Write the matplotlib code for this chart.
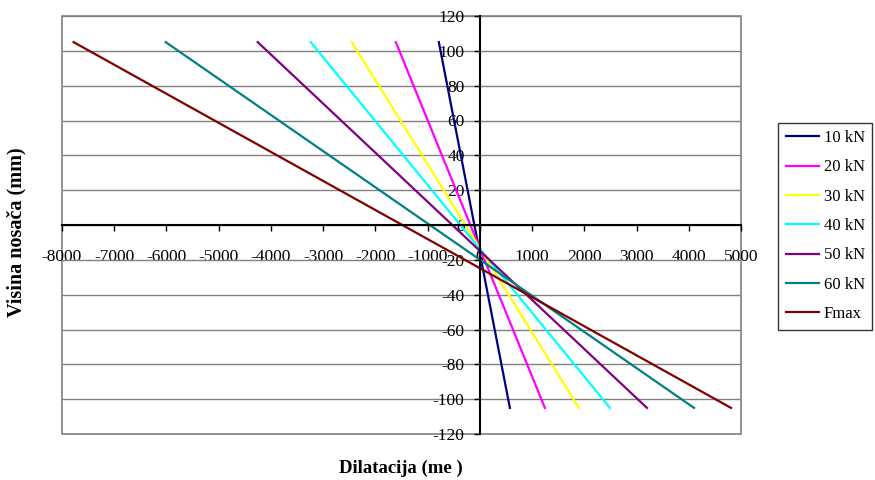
import matplotlib
matplotlib.use("Agg")
import matplotlib.pyplot as plt
from matplotlib.patches import Rectangle

plt.rcParams['font.family'] = ['Liberation Serif', 'DejaVu Serif']
plt.rcParams['axes.unicode_minus'] = False

# Data: strain at top and bottom fibre (y = +105 / -105 mm)
heights = [105, -105]
labels = ['10 kN', '20 kN', '30 kN', '40 kN', '50 kN', '60 kN', 'Fmax']
strain_top = [-785, -1609, -2452, -3238, -4253, -6015, -7778]
strain_bottom = [575, 1245, 1897, 2490, 3199, 4100, 4808]
colors = ['#000080', '#FF00FF', '#FFFF00', '#00FFFF', '#800080', '#008080', '#800000']

xticks = list(range(-8000, 5001, 1000))
yticks = list(range(-120, 121, 20))

fig = plt.figure(figsize=(8.75, 4.8), dpi=100)
ax = fig.add_axes([62/875, 46/480, 679/875, 418/480])

for lab, top, bot, c in zip(labels, strain_top, strain_bottom, colors):
    ax.plot([top, bot], heights, color=c, lw=1.6, label=lab)

ax.set_xlim(-8000, 5000)
ax.set_ylim(-120, 120)
ax.set_xticks(xticks)
ax.set_yticks(yticks)
ax.tick_params(labelsize=12.5, length=4.5, width=1, color='black')
ax.tick_params(axis='x', pad=13)
ax.tick_params(axis='y', pad=6.5)

# axes crossing at zero, Excel style
ax.spines['left'].set_position(('data', 0))
ax.spines['bottom'].set_position(('data', 0))
ax.spines['left'].set_linewidth(1.5)
ax.spines['bottom'].set_linewidth(1.5)
ax.spines['top'].set_visible(False)
ax.spines['right'].set_visible(False)

ax.yaxis.grid(True, color='#808080', lw=1)
ax.set_axisbelow(True)
ax.add_patch(Rectangle((0, 0), 1, 1, transform=ax.transAxes, fill=False,
                       edgecolor='#808080', lw=1.2, clip_on=False, zorder=0.5))

fig.text(401/875, 1 - 468/480, 'Dilatacija (me )', ha='center', va='center',
         fontsize=13.5, fontweight='bold')
fig.text(16/875, 1 - 232/480, 'Visina nosača (mm)', ha='center', va='center',
         rotation=90, fontsize=14.5, fontweight='bold')

leg = ax.legend(loc='center left', bbox_to_anchor=(778/875, 1 - 226/480),
                bbox_transform=fig.transFigure, borderaxespad=0,
                fontsize=12, frameon=True, fancybox=False, edgecolor='black',
                handlelength=2.0, labelspacing=0.8, borderpad=0.45,
                handletextpad=0.3)
leg.get_frame().set_linewidth(1)

fig.savefig('out.png', dpi=100)
